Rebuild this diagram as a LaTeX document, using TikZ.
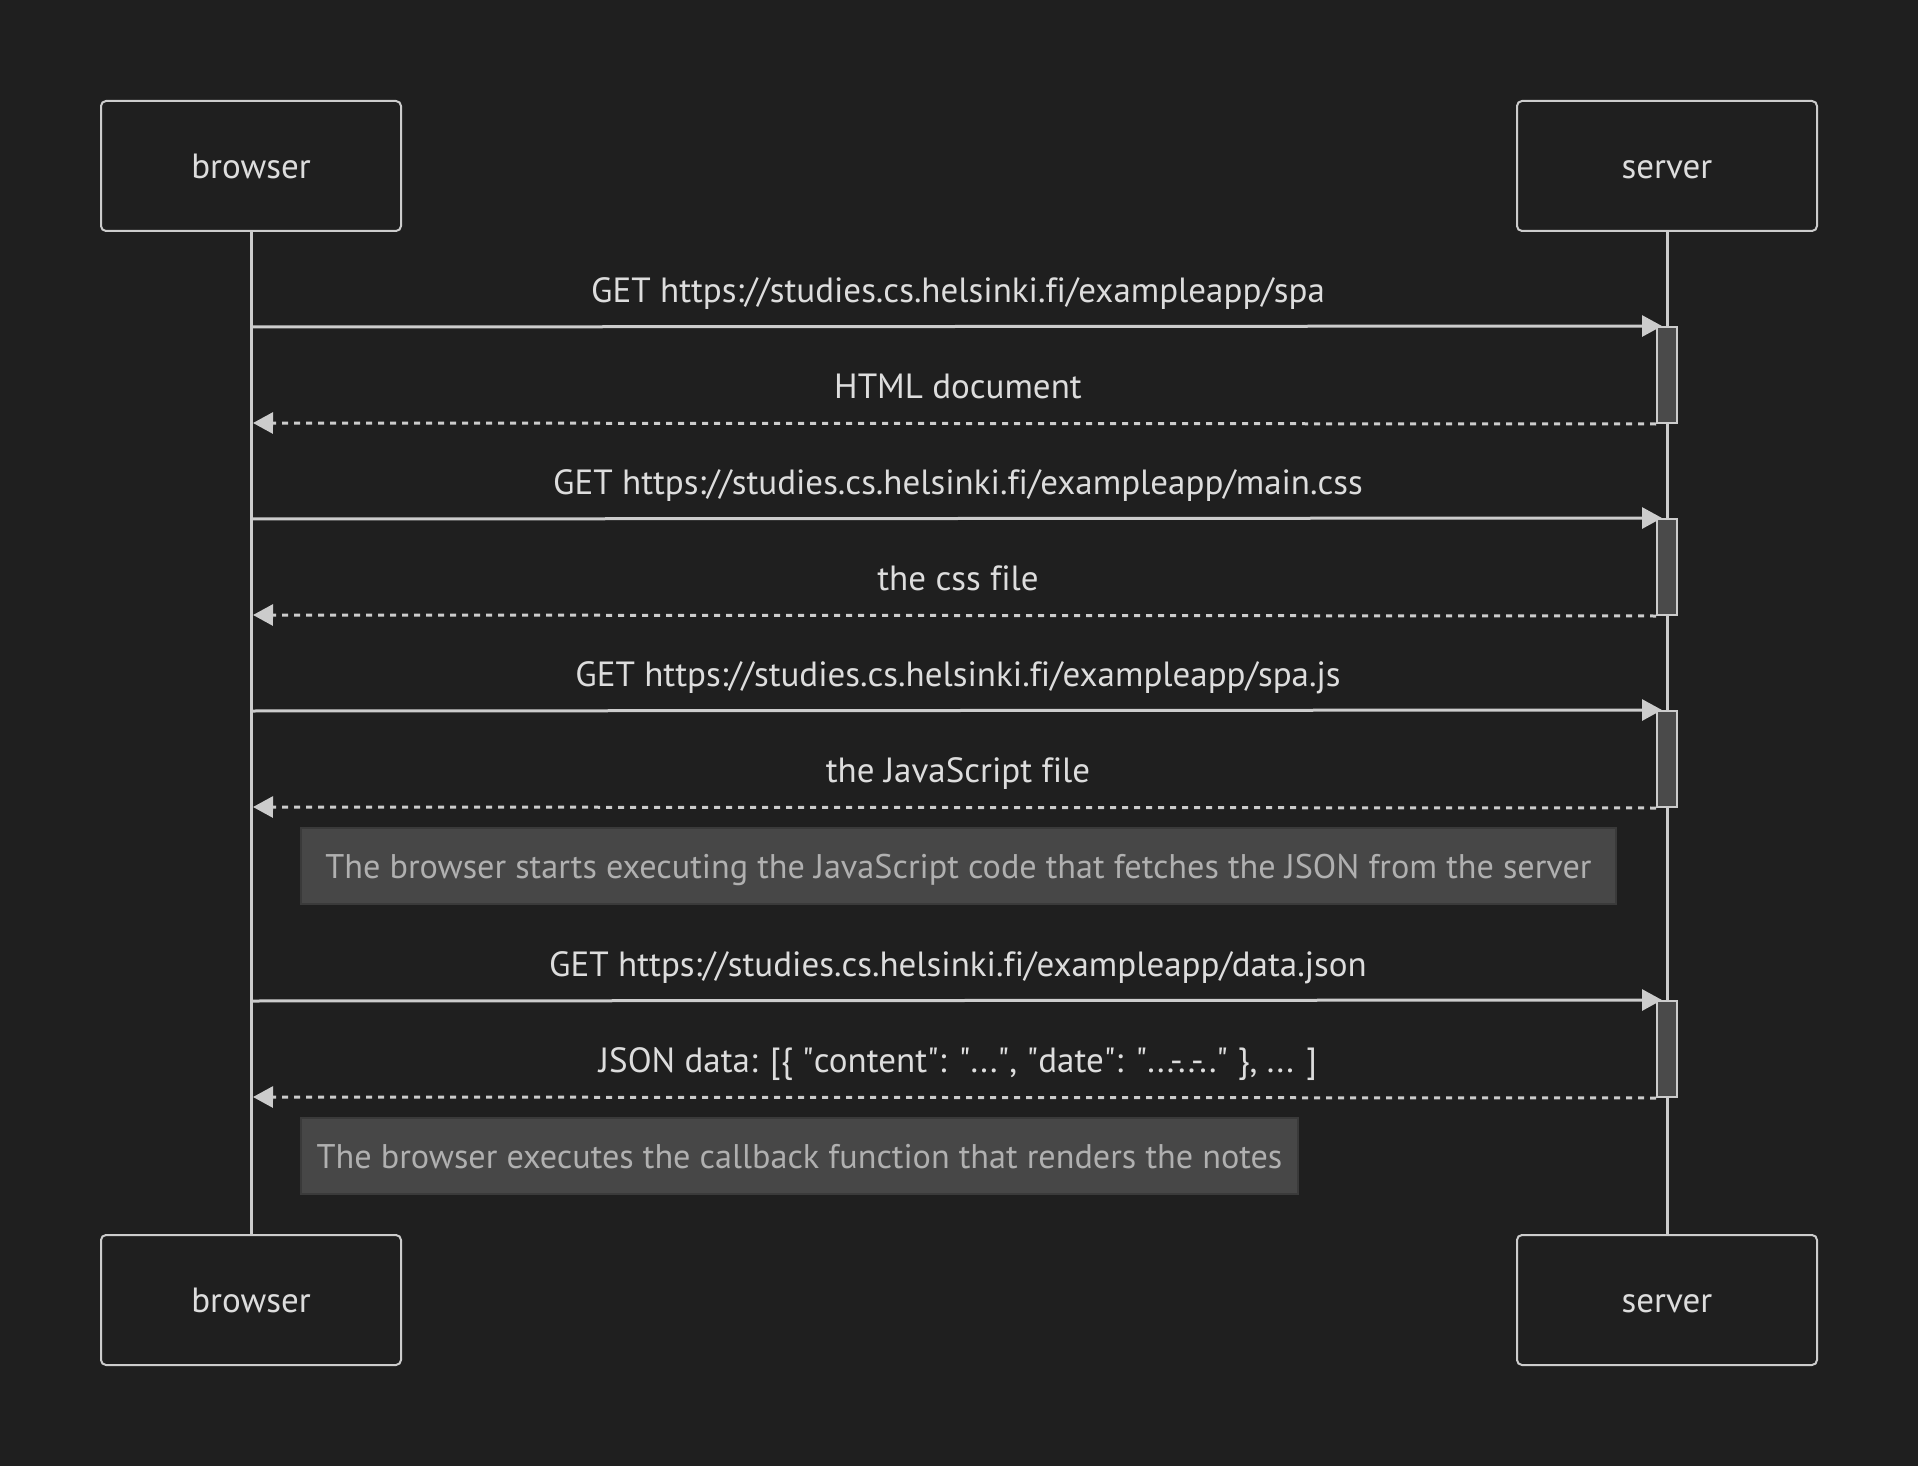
\documentclass[tikz,border=0pt]{standalone}
\usepackage{fontspec}
\setmainfont{PT Sans}[Ligatures=NoCommon]
\usetikzlibrary{arrows.meta,positioning}
\definecolor{bgdark}{HTML}{1F1F1F}
\definecolor{linegray}{HTML}{CCCCCC}
\definecolor{textgray}{HTML}{DDDDDD}
\definecolor{notefill}{HTML}{474747}
\definecolor{noteedge}{HTML}{3A3A3A}
\definecolor{notetext}{HTML}{B0B0B0}
\definecolor{actfill}{HTML}{4A4A4A}
\newcommand{\qt}{\textquotedbl}

\begin{document}
\begin{tikzpicture}[x=0.5pt,y=-0.5pt,>={Triangle[length=10pt,width=10.5pt]},
  font=\fontsize{17.5}{20}\selectfont]
  \tikzstyle{actor}=[draw=linegray,line width=1pt,rounded corners=2.5pt,fill=bgdark,text=textgray,minimum width=150pt,minimum height=65pt,text height=12.4pt,text depth=0pt]
  \tikzstyle{lifeline}=[draw=linegray,line width=1.5pt]
  \tikzstyle{actbar}=[draw=linegray,fill=actfill,line width=1pt,minimum width=10pt,minimum height=48pt,inner sep=0pt]
  \tikzstyle{msg}=[draw=linegray,line width=1.5pt,->]
  \tikzstyle{reply}=[msg,dash pattern=on 3pt off 3pt]
  \tikzstyle{lbl}=[text=textgray,inner sep=0pt,text height=12.4pt,text depth=0pt]
  \tikzstyle{note}=[draw=noteedge,fill=notefill,text=notetext,line width=1pt,minimum height=38pt,inner sep=0pt,text height=12.4pt,text depth=0pt,font=\fontsize{17.1}{20}\selectfont]

  % background
  \fill[bgdark] (0,0) rectangle (1918,1466);

  % actors
  \node[actor] (browser)     at (251,166)  {browser};
  \node[actor] (server)      at (1667,166) {server};
  \node[actor] (browserEnd)  at (251,1300) {browser};
  \node[actor] (serverEnd)   at (1667,1300) {server};

  \draw[lifeline] (browser.south) -- (browserEnd.north);
  \draw[lifeline] (server.south) -- (serverEnd.north);

  % activations on the server
  \node[actbar] (act1) at (1667,375)  {};
  \node[actbar] (act2) at (1667,567)  {};
  \node[actbar] (act3) at (1667,759)  {};
  \node[actbar] (act4) at (1667,1049) {};

  % end points on the browser lifeline
  \coordinate (b1) at (251,327);
  \coordinate (b2) at (253,423);
  \coordinate (b3) at (251,519);
  \coordinate (b4) at (253,615);
  \coordinate (b5) at (251,711);
  \coordinate (b6) at (253,807);
  \coordinate (b7) at (251,1001);
  \coordinate (b8) at (253,1097);

  \draw[msg]   (b1) -- ([xshift=3pt]act1.north west);
  \draw[reply] (act1.south west) -- (b2);
  \draw[msg]   (b3) -- ([xshift=3pt]act2.north west);
  \draw[reply] (act2.south west) -- (b4);
  \draw[msg]   (b5) -- ([xshift=3pt]act3.north west);
  \draw[reply] (act3.south west) -- (b6);
  \draw[msg]   (b7) -- ([xshift=3pt]act4.north west);
  \draw[reply] (act4.south west) -- (b8);

  % message labels
  \node[lbl] (m1) at (958,290)  {GET https://studies.cs.helsinki.fi/exampleapp/spa};
  \node[lbl] (m2) at (958,386)  {HTML document};
  \node[lbl] (m3) at (958,482)  {GET https://studies.cs.helsinki.fi/exampleapp/main.css};
  \node[lbl] (m4) at (958,578)  {the css file};
  \node[lbl] (m5) at (958,674)  {GET https://studies.cs.helsinki.fi/exampleapp/spa.js};
  \node[lbl] (m6) at (958,770)  {the JavaScript file};
  \node[lbl] (m7) at (958,964)  {GET https://studies.cs.helsinki.fi/exampleapp/data.json};
  \node[lbl] (m8) at (958,1060) {JSON data: [\{ \qt content\qt: \qt ...\qt, \qt date\qt: \qt ...-..-..\qt\ \}, ... ]};

  % notes
  \node[note,minimum width=657.5pt] (note1) at (958.5,866)
    {The browser starts executing the JavaScript code that fetches the JSON from the server};
  \node[note,minimum width=498.5pt] (note2) at (799.5,1156)
    {The browser executes the callback function that renders the notes};
\end{tikzpicture}
\end{document}
